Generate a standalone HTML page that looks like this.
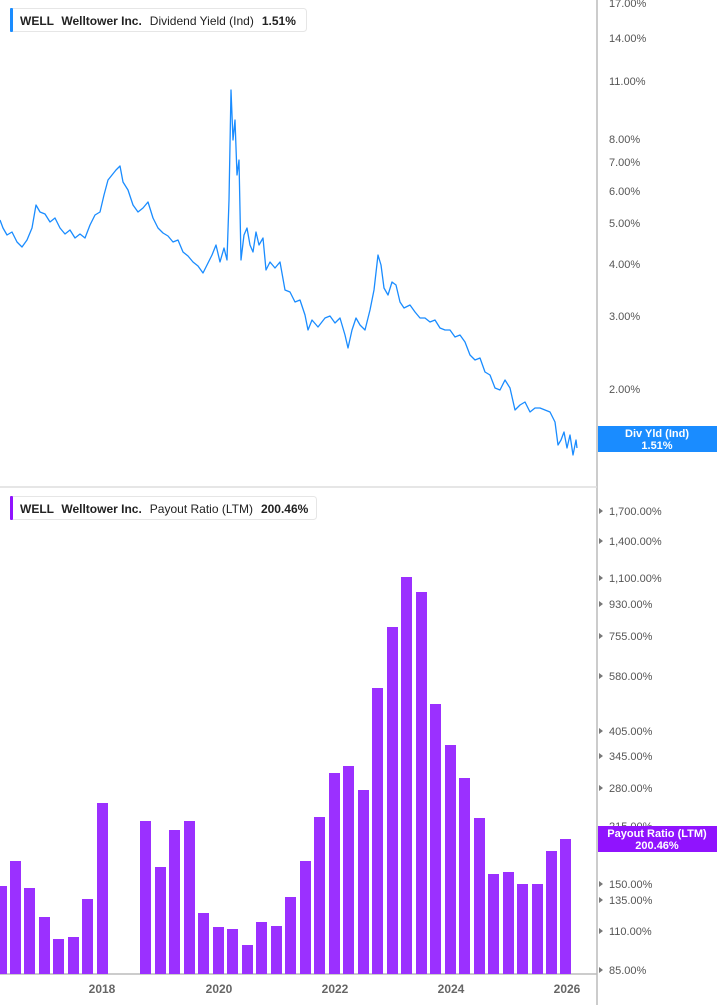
<!DOCTYPE html>
<html><head><meta charset="utf-8"><style>
body{margin:0;background:#fff;width:717px;height:1005px;overflow:hidden;font-family:"Liberation Sans",sans-serif}
svg{display:block}
.l{font-size:11px;fill:#555}
.y{font-size:12px;fill:#666;font-weight:bold}
</style></head><body>
<svg width="717" height="1005" xmlns="http://www.w3.org/2000/svg">
<line x1="597" y1="0" x2="597" y2="1005" stroke="#bbb" stroke-width="1.5"/>
<line x1="0" y1="487" x2="597" y2="487" stroke="#ddd" stroke-width="1.5"/>
<line x1="0" y1="974" x2="597" y2="974" stroke="#bbb" stroke-width="1.5"/>
<g class="l">
<text x="609" y="7">17.00%</text><text x="609" y="42">14.00%</text><text x="609" y="85">11.00%</text>
<text x="609" y="143">8.00%</text><text x="609" y="166">7.00%</text><text x="609" y="195">6.00%</text>
<text x="609" y="227">5.00%</text><text x="609" y="268">4.00%</text><text x="609" y="320">3.00%</text><text x="609" y="393">2.00%</text>
<text x="609" y="515">1,700.00%</text><text x="609" y="545">1,400.00%</text><text x="609" y="582">1,100.00%</text>
<text x="609" y="608">930.00%</text><text x="609" y="640">755.00%</text><text x="609" y="680">580.00%</text>
<text x="609" y="735">405.00%</text><text x="609" y="760">345.00%</text><text x="609" y="792">280.00%</text>
<text x="609" y="830">215.00%</text><text x="609" y="888">150.00%</text><text x="609" y="904">135.00%</text>
<text x="609" y="935">110.00%</text><text x="609" y="974">85.00%</text>
</g>
<g fill="#777">
<path d="M599,508l4,3l-4,3z M599,538l4,3l-4,3z M599,575l4,3l-4,3z M599,601l4,3l-4,3z M599,633l4,3l-4,3z M599,673l4,3l-4,3z M599,728l4,3l-4,3z M599,753l4,3l-4,3z M599,785l4,3l-4,3z M599,881l4,3l-4,3z M599,897l4,3l-4,3z M599,928l4,3l-4,3z M599,967l4,3l-4,3z"/>
</g>
<polyline fill="none" stroke="#1a8cff" stroke-width="1.3" stroke-linejoin="round" points="0,220 3,228 7,235 12,232 17,242 22,247 27,240 32,228 36,205 40,212 45,214 50,222 55,218 60,228 65,234 70,230 75,238 80,234 85,238 90,225 95,215 100,212 104,195 108,180 112,175 116,170 120,166 123,182 128,190 133,205 138,212 143,208 148,202 153,218 158,228 163,233 168,236 173,242 178,240 183,252 188,256 193,262 198,266 203,273 207,265 212,255 216,245 220,262 224,248 227,260 229,200 231,90 233,140 235,120 237,175 239,160 241,260 244,235 247,228 250,245 253,252 256,232 259,245 263,238 266,270 270,262 275,268 280,262 285,290 290,292 295,302 300,300 305,315 308,330 312,320 318,327 325,318 330,316 335,323 340,318 345,335 348,348 352,330 356,318 360,325 365,330 370,310 374,290 378,255 381,265 384,288 388,295 392,282 396,285 400,302 404,308 410,305 415,312 420,318 425,318 430,322 435,320 440,328 445,330 450,330 455,337 460,335 465,342 470,355 475,360 480,358 485,372 490,375 495,388 500,390 505,380 510,388 515,410 520,405 525,402 530,412 535,408 540,408 545,410 550,412 555,422 558,445 561,440 564,432 567,448 570,435 573,455 576,440 577,448"/>
<g fill="#9b30ff">
<rect x="-4" y="886" width="11" height="88"/><rect x="10" y="861" width="11" height="113"/><rect x="24" y="888" width="11" height="86"/>
<rect x="39" y="917" width="11" height="57"/><rect x="53" y="939" width="11" height="35"/><rect x="68" y="937" width="11" height="37"/>
<rect x="82" y="899" width="11" height="75"/><rect x="97" y="803" width="11" height="171"/>
<rect x="140" y="821" width="11" height="153"/><rect x="155" y="867" width="11" height="107"/><rect x="169" y="830" width="11" height="144"/>
<rect x="184" y="821" width="11" height="153"/><rect x="198" y="913" width="11" height="61"/><rect x="213" y="927" width="11" height="47"/>
<rect x="227" y="929" width="11" height="45"/><rect x="242" y="945" width="11" height="29"/><rect x="256" y="922" width="11" height="52"/>
<rect x="271" y="926" width="11" height="48"/><rect x="285" y="897" width="11" height="77"/><rect x="300" y="861" width="11" height="113"/>
<rect x="314" y="817" width="11" height="157"/><rect x="329" y="773" width="11" height="201"/><rect x="343" y="766" width="11" height="208"/>
<rect x="358" y="790" width="11" height="184"/><rect x="372" y="688" width="11" height="286"/><rect x="387" y="627" width="11" height="347"/>
<rect x="401" y="577" width="11" height="397"/><rect x="416" y="592" width="11" height="382"/><rect x="430" y="704" width="11" height="270"/>
<rect x="445" y="745" width="11" height="229"/><rect x="459" y="778" width="11" height="196"/><rect x="474" y="818" width="11" height="156"/>
<rect x="488" y="874" width="11" height="100"/><rect x="503" y="872" width="11" height="102"/><rect x="517" y="884" width="11" height="90"/>
<rect x="532" y="884" width="11" height="90"/><rect x="546" y="851" width="11" height="123"/><rect x="560" y="839" width="11" height="135"/>
</g>
<g class="y" text-anchor="middle">
<text x="102" y="993">2018</text><text x="219" y="993">2020</text><text x="335" y="993">2022</text><text x="451" y="993">2024</text><text x="567" y="993">2026</text>
</g>
<rect x="598" y="426" width="119" height="26" fill="#1a8cff"/>
<text x="657" y="437" fill="#fff" font-size="11" font-weight="bold" text-anchor="middle">Div Yld (Ind)</text>
<text x="657" y="449" fill="#fff" font-size="11" font-weight="bold" text-anchor="middle">1.51%</text>
<rect x="598" y="826" width="119" height="26" fill="#9013fe"/>
<text x="657" y="837" fill="#fff" font-size="11" font-weight="bold" text-anchor="middle">Payout Ratio (LTM)</text>
<text x="657" y="849" fill="#fff" font-size="11" font-weight="bold" text-anchor="middle">200.46%</text>
<rect x="10.5" y="8.5" width="296" height="23" rx="3" fill="#fff" stroke="#e6e6e6"/>
<rect x="10" y="8" width="3" height="24" rx="1" fill="#1a8cff"/>
<text x="20" y="25" font-size="12" fill="#222"><tspan font-weight="bold">WELL</tspan><tspan dx="8" font-weight="bold">Welltower Inc.</tspan><tspan dx="8">Dividend Yield (Ind)</tspan><tspan dx="8" font-weight="bold">1.51%</tspan></text>
<rect x="10.5" y="496.5" width="306" height="23" rx="3" fill="#fff" stroke="#e6e6e6"/>
<rect x="10" y="496" width="3" height="24" rx="1" fill="#9013fe"/>
<text x="20" y="513" font-size="12" fill="#222"><tspan font-weight="bold">WELL</tspan><tspan dx="8" font-weight="bold">Welltower Inc.</tspan><tspan dx="8">Payout Ratio (LTM)</tspan><tspan dx="8" font-weight="bold">200.46%</tspan></text>
</svg>
</body></html>
